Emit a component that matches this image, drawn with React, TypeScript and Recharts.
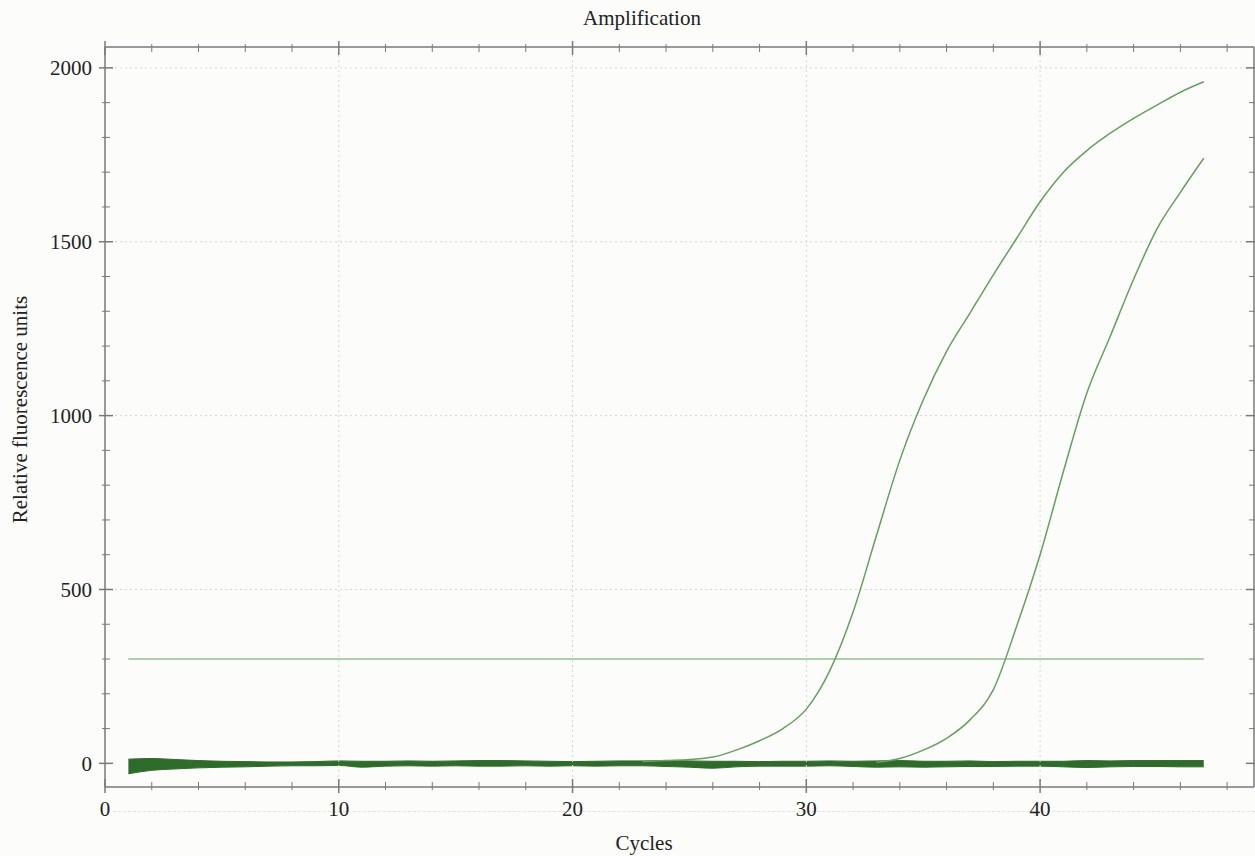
import React from "react";
import {
  ComposedChart,
  Line,
  Area,
  XAxis,
  YAxis,
  ReferenceLine,
} from "recharts";

const cycles = [
  1, 2, 3, 4, 5, 6, 7, 8, 9, 10, 11, 12, 13, 14, 15, 16, 17, 18, 19, 20, 21, 22, 23, 24,
  25, 26, 27, 28, 29, 30, 31, 32, 33, 34, 35, 36, 37, 38, 39, 40, 41, 42, 43, 44, 45, 46, 47,
];

// sample that comes up around cycle 31
const sampleA = [
  null, null, null, null, null, null, null, null, null, null, null, null, null, null, null, null,
  null, null, null, null, null, null, 5, 8, 11, 18, 38, 65, 100, 156, 266, 435, 655, 872, 1045,
  1185, 1295, 1405, 1510, 1615, 1700, 1762, 1812, 1855, 1893, 1930, 1960,
];

// sample that comes up around cycle 38
const sampleB = [
  null, null, null, null, null, null, null, null, null, null, null, null, null, null, null, null,
  null, null, null, null, null, null, null, null, null, null, null, null, null, null, null, null,
  3, 14, 38, 72, 125, 212, 395, 600, 840, 1065, 1228, 1392, 1537, 1642, 1740,
];

// negative wells: upper and lower edge of the bundle of flat traces
const baselineHigh = [
  12, 14, 11, 8, 6, 5, 4, 4, 5, 7, 6, 6, 7, 6, 7, 8, 8, 7, 6, 5, 6, 7, 7, 8,
  7, 6, 6, 5, 6, 6, 7, 6, 7, 8, 6, 6, 7, 5, 6, 6, 6, 8, 7, 8, 8, 8, 8,
];
const baselineLow = [
  -30, -20, -16, -13, -11, -10, -8, -7, -7, -6, -11, -8, -7, -8, -7, -8, -8, -7, -8, -7, -8, -7, -7, -9,
  -11, -14, -10, -8, -8, -8, -7, -9, -11, -10, -11, -10, -9, -9, -8, -8, -10, -12, -10, -9, -9, -10, -10,
];

const threshold = 300;
const thresholdFrom = 1;
const thresholdTo = 47;

const xTicks = [0, 2, 4, 6, 8, 10, 12, 14, 16, 18, 20, 22, 24, 26, 28, 30, 32, 34, 36, 38, 40, 42, 44, 46, 48];
const xGrid = [10, 20, 30, 40];
const yTicks = [
  0, 100, 200, 300, 400, 500, 600, 700, 800, 900, 1000, 1100, 1200, 1300, 1400, 1500, 1600,
  1700, 1800, 1900, 2000,
];
const yGrid = [500, 1000, 1500, 2000];

const data = cycles.map((c, i) => ({
  cycle: c,
  a: sampleA[i],
  b: sampleB[i],
  band: [baselineLow[i], baselineHigh[i]],
}));

const FONT = '"Liberation Serif", "Times New Roman", serif';
const AXIS = "#7a7a7a";
const BG = "#fcfcfa";
const X_DOMAIN = [0, 49.15];
const Y_DOMAIN = [-68, 2060];

const XTick = (props: any) => {
  const { x, y, payload, showLabel, side } = props;
  const major = payload.value % 10 === 0;
  const len = major ? 7 : 4;
  const ay = side === "top" ? y + 1 : y - 1;
  return (
    <g>
      <line x1={x} x2={x} y1={ay - len} y2={ay + len} stroke={AXIS} strokeWidth={major ? 1.5 : 1} />
      {showLabel && major && (
        <text x={x} y={ay + 30} textAnchor="middle" fontFamily={FONT} fontSize={21} fill="#222">
          {payload.value}
        </text>
      )}
    </g>
  );
};

const YTick = (props: any) => {
  const { x, y, payload, showLabel, side } = props;
  const major = payload.value % 500 === 0;
  const len = major ? 7 : 4;
  const ax = side === "right" ? x - 1 : x + 1;
  return (
    <g>
      <line x1={ax - len} x2={ax + len} y1={y} y2={y} stroke={AXIS} strokeWidth={major ? 1.5 : 1} />
      {showLabel && major && (
        <text x={ax - 14} y={y} dy="0.35em" textAnchor="end" fontFamily={FONT} fontSize={21} fill="#222">
          {payload.value}
        </text>
      )}
    </g>
  );
};

export default function App() {
  return (
    <div style={{ position: "absolute", left: 0, top: 0, width: 1255, height: 856, background: BG, fontFamily: FONT }}>
      <div style={{ position: "absolute", top: 8, left: 642, transform: "translateX(-50%)", fontSize: 21, lineHeight: "21px", color: "#222", whiteSpace: "nowrap" }}>
        Amplification
      </div>
      <div style={{ position: "absolute", top: 833, left: 644, transform: "translateX(-50%)", fontSize: 21, lineHeight: "21px", color: "#222", whiteSpace: "nowrap" }}>
        Cycles
      </div>
      <div style={{ position: "absolute", left: 19.5 - 150, top: 409 - 10.5, width: 300, height: 21, textAlign: "center", transform: "rotate(-90deg)", fontSize: 21, lineHeight: "21px", color: "#222", whiteSpace: "nowrap" }}>
        Relative fluorescence units
      </div>
      <div style={{ position: "absolute", top: 811, left: 113, width: 1142, borderTop: "1px dashed #e2e2e2" }} />
      <ComposedChart
        width={1255}
        height={856}
        data={data}
        margin={{ top: 46, right: 0, bottom: 68, left: 104 }}
      >
        <XAxis
          dataKey="cycle"
          type="number"
          domain={X_DOMAIN}
          ticks={xTicks}
          interval={0}
          allowDataOverflow
          height={1}
          tickSize={0}
          tickMargin={0}
          tickLine={false}
          axisLine={{ stroke: AXIS, strokeWidth: 1.5 }}
          tick={(p: any) => <XTick {...p} showLabel side="bottom" />}
        />
        <XAxis
          xAxisId="top"
          orientation="top"
          dataKey="cycle"
          type="number"
          domain={X_DOMAIN}
          ticks={xTicks}
          interval={0}
          allowDataOverflow
          height={1}
          tickSize={0}
          tickMargin={0}
          tickLine={false}
          axisLine={{ stroke: AXIS, strokeWidth: 1.5 }}
          tick={(p: any) => <XTick {...p} side="top" />}
        />
        <YAxis
          type="number"
          domain={Y_DOMAIN}
          ticks={yTicks}
          interval={0}
          allowDataOverflow
          width={1}
          tickSize={0}
          tickMargin={0}
          tickLine={false}
          axisLine={{ stroke: AXIS, strokeWidth: 1.5 }}
          tick={(p: any) => <YTick {...p} showLabel side="left" />}
        />
        <YAxis
          yAxisId="right"
          orientation="right"
          type="number"
          domain={Y_DOMAIN}
          ticks={yTicks}
          interval={0}
          allowDataOverflow
          width={1}
          tickSize={0}
          tickMargin={0}
          tickLine={false}
          axisLine={{ stroke: AXIS, strokeWidth: 1.5 }}
          tick={(p: any) => <YTick {...p} side="right" />}
        />
        {xGrid.map((v) => (
          <ReferenceLine key={"gx" + v} x={v} stroke="#d6d6d6" strokeDasharray="2 3" />
        ))}
        {yGrid.map((v) => (
          <ReferenceLine key={"gy" + v} y={v} stroke="#d6d6d6" strokeDasharray="2 3" />
        ))}
        <ReferenceLine
          segment={[
            { x: thresholdFrom, y: threshold },
            { x: thresholdTo, y: threshold },
          ]}
          stroke="#95c08e"
          strokeWidth={1.5}
        />
        {/* invisible copy so the mirrored top/right axes share the data scale */}
        <Line
          xAxisId="top"
          yAxisId="right"
          dataKey="a"
          type="monotone"
          dot={false}
          stroke="none"
          activeDot={false}
          isAnimationActive={false}
        />
        <Line dataKey="a" type="monotone" dot={false} stroke="#66a05f" strokeWidth={1.5} isAnimationActive={false} />
        <Line dataKey="b" type="monotone" dot={false} stroke="#66a05f" strokeWidth={1.5} isAnimationActive={false} />
        <Area
          dataKey="band"
          type="monotone"
          stroke="#2f6b2b"
          strokeWidth={1}
          fill="#2f6b2b"
          fillOpacity={1}
          isAnimationActive={false}
        />
      </ComposedChart>
    </div>
  );
}
